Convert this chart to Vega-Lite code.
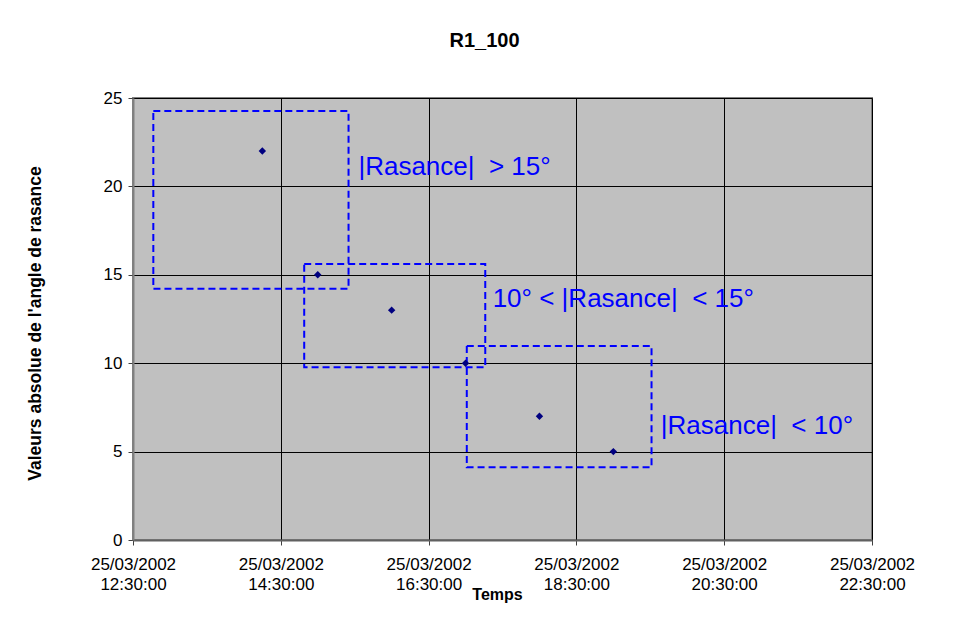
{
  "$schema": "https://vega.github.io/schema/vega-lite/v6.json",
  "autosize": "none",
  "width": 739,
  "height": 442,
  "padding": {"left": 133, "top": 98, "right": 81, "bottom": 77},
  "background": "white",
  "title": {
    "text": "R1_100",
    "font": "Liberation Sans",
    "fontSize": 20,
    "fontWeight": "bold",
    "color": "black",
    "anchor": "middle",
    "dx": -18,
    "offset": 38
  },
  "config": {
    "view": {"fill": "#C0C0C0", "stroke": "#808080", "strokeWidth": 2},
    "axis": {
      "labelFont": "Liberation Sans",
      "titleFont": "Liberation Sans",
      "labelColor": "black",
      "titleColor": "black",
      "gridColor": "black",
      "gridWidth": 1,
      "gridOpacity": 1,
      "tickColor": "#404040",
      "tickSize": 5,
      "domainColor": "#606060",
      "domainWidth": 2
    }
  },
  "encoding": {
    "x": {
      "field": "t",
      "type": "temporal",
      "scale": {
        "domain": [
          {"year": 2002, "month": 3, "date": 25, "hours": 12, "minutes": 30},
          {"year": 2002, "month": 3, "date": 25, "hours": 22, "minutes": 30}
        ]
      },
      "axis": {
        "title": "Temps",
        "titleFontSize": 16,
        "titleFontWeight": "bold",
        "titleX": 364,
        "titleY": 59,
        "titleAlign": "center",
        "titleBaseline": "alphabetic",
        "grid": true,
        "values": [
          {"year": 2002, "month": 3, "date": 25, "hours": 12, "minutes": 30},
          {"year": 2002, "month": 3, "date": 25, "hours": 14, "minutes": 30},
          {"year": 2002, "month": 3, "date": 25, "hours": 16, "minutes": 30},
          {"year": 2002, "month": 3, "date": 25, "hours": 18, "minutes": 30},
          {"year": 2002, "month": 3, "date": 25, "hours": 20, "minutes": 30},
          {"year": 2002, "month": 3, "date": 25, "hours": 22, "minutes": 30}
        ],
        "labelExpr": "[timeFormat(datum.value, '%d/%m/%Y'), timeFormat(datum.value, '%H:%M:%S')]",
        "labelFontSize": 17,
        "labelLineHeight": 20,
        "labelPadding": 11,
        "labelFlush": false,
        "labelOverlap": false
      }
    },
    "y": {
      "field": "v",
      "type": "quantitative",
      "scale": {"domain": [0, 25], "nice": false},
      "axis": {
        "title": "Valeurs absolue de l'angle de rasance",
        "titleFontSize": 17.5,
        "titleFontWeight": "bold",
        "titleX": -98,
        "titleY": 225,
        "titleAngle": 270,
        "titleAlign": "center",
        "titleBaseline": "middle",
        "grid": true,
        "values": [0, 5, 10, 15, 20, 25],
        "labelFontSize": 17,
        "labelPadding": 6,
        "domainColor": "#808080"
      }
    }
  },
  "layer": [
    {
      "data": {
        "values": [
          {"t": "2002-03-25T12:46:30", "t2": "2002-03-25T15:25:00", "v": 24.26, "v2": 14.21},
          {"t": "2002-03-25T14:49:00", "t2": "2002-03-25T17:16:00", "v": 15.61, "v2": 9.77},
          {"t": "2002-03-25T17:01:00", "t2": "2002-03-25T19:31:00", "v": 10.97, "v2": 4.11}
        ],
        "format": {"parse": {"t": "date", "t2": "date"}}
      },
      "mark": {"type": "rect", "fill": null, "stroke": "#0000FF", "strokeWidth": 2, "strokeDash": [7, 4]},
      "encoding": {
        "x2": {"field": "t2"},
        "y2": {"field": "v2"}
      }
    },
    {
      "data": {
        "values": [
          {"t": "2002-03-25T14:15:00", "v": 22},
          {"t": "2002-03-25T15:00:00", "v": 15},
          {"t": "2002-03-25T16:00:00", "v": 13},
          {"t": "2002-03-25T17:00:00", "v": 10},
          {"t": "2002-03-25T18:00:00", "v": 7},
          {"t": "2002-03-25T19:00:00", "v": 5}
        ],
        "format": {"parse": {"t": "date"}}
      },
      "mark": {"type": "point", "shape": "diamond", "filled": true, "color": "#000080", "size": 55, "opacity": 1}
    },
    {
      "data": {
        "values": [
          {"t": "2002-03-25T15:33:00", "v": 20.64, "label": "|Rasance|\u00a0 > 15°"},
          {"t": "2002-03-25T17:22:00", "v": 13.16, "label": "10° < |Rasance|\u00a0 < 15°"},
          {"t": "2002-03-25T19:38:30", "v": 6.0, "label": "|Rasance|\u00a0 < 10°"}
        ],
        "format": {"parse": {"t": "date"}}
      },
      "mark": {"type": "text", "align": "left", "baseline": "alphabetic", "font": "Liberation Sans", "fontSize": 26, "color": "#0000FF"},
      "encoding": {"text": {"field": "label"}}
    }
  ]
}
